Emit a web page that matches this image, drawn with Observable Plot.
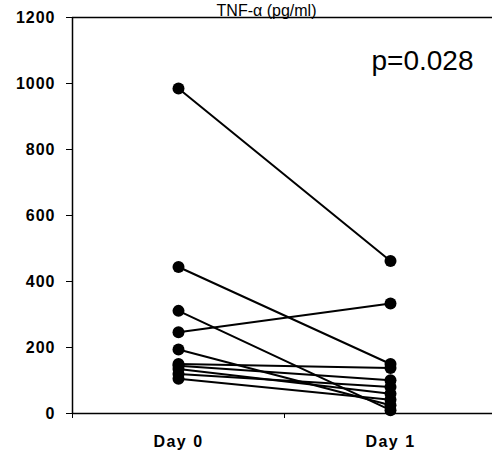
<!DOCTYPE html>
<html>
<head>
<meta charset="utf-8">
<script src="https://cdn.jsdelivr.net/npm/d3@7"></script>
<script src="https://cdn.jsdelivr.net/npm/@observablehq/plot@0.6"></script>
<style>
  html, body { margin: 0; padding: 0; background: #fff; overflow: hidden; }
  #chart svg { max-width: none !important; display: block; }
  g[aria-label="y-axis tick label"] text { letter-spacing: 1px; }
  g[aria-label="x-axis tick label"] text { letter-spacing: 1.5px; }
</style>
</head>
<body>
<div id="chart"></div>
<script>
const title = "TNF-α (pg/ml)";
const pLabel = "p=0.028";
const dayLabels = ["Day 0", "Day 1"];
const day0 = [985, 444, 311, 246, 194, 150, 145, 135, 120, 105];
const day1 = [462, 150, 10, 333, 25, 138, 101, 60, 80, 42];
const yTicks = [0, 200, 400, 600, 800, 1000, 1200];

const rows = [];
day0.forEach((v, i) => {
  rows.push({subject: i, day: 0.5, value: v});
  rows.push({subject: i, day: 1.5, value: day1[i]});
});

const font = "'Liberation Sans', Arial, sans-serif";

const chart = Plot.plot({
  width: 496,
  height: 454,
  marginLeft: 72,
  marginRight: 0,
  marginTop: 17,
  marginBottom: 41,
  style: {fontFamily: font, background: "#fff", overflow: "visible"},
  x: {domain: [0, 2], axis: null},
  y: {domain: [0, 1200], axis: null},
  marks: [
    Plot.ruleY([0, 1200], {stroke: "#000", strokeWidth: 1.5}),
    Plot.ruleX([0], {stroke: "#000", strokeWidth: 1.5}),
    Plot.axisY({ticks: yTicks, tickFormat: d => String(d), tickSize: 6, tickPadding: 11,
      fontSize: 16, fontWeight: "bold", stroke: "#000", strokeWidth: 1, fill: "#000", label: null}),
    Plot.axisX({ticks: [0, 1, 2], tickFormat: () => "", tickSize: 5, stroke: "#000", label: null}),
    Plot.axisX({ticks: [0.5, 1.5], tickFormat: d => dayLabels[Math.floor(d)], tickSize: 0, tickPadding: 22,
      fontSize: 16, fontWeight: "bold", fill: "#000", label: null}),
    Plot.line(rows, {x: "day", y: "value", z: "subject", stroke: "#000", strokeWidth: 2}),
    Plot.dot(rows, {x: "day", y: "value", r: 6, fill: "#000", stroke: "none"}),
    Plot.text([title], {frameAnchor: "top", dx: -18, dy: -2, lineAnchor: "bottom", fontSize: 16, fill: "#000", fontFamily: font}),
    Plot.text([pLabel], {frameAnchor: "top-right", dx: -23, dy: 33, lineAnchor: "top", textAnchor: "end", fontSize: 28, fill: "#000", fontFamily: font})
  ]
});
document.getElementById("chart").append(chart);
</script>
</body>
</html>
